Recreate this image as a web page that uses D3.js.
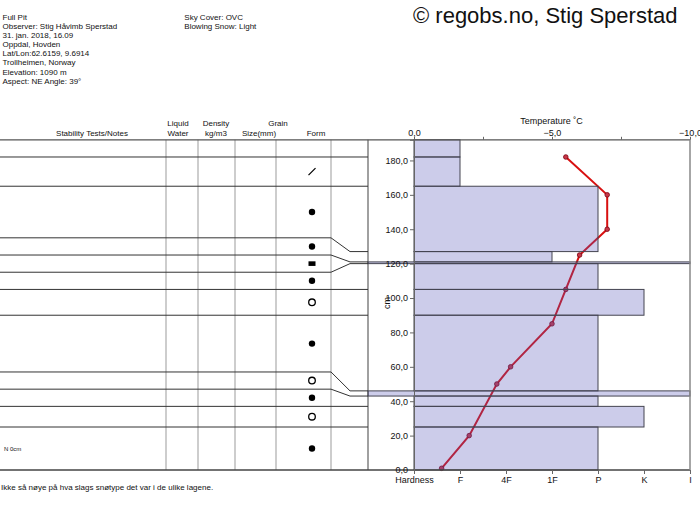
<!DOCTYPE html>
<html><head><meta charset="utf-8">
<script src="https://cdn.jsdelivr.net/npm/d3@7"></script>
<style>
html,body{margin:0;padding:0;background:#fff;}
svg{display:block;font-family:"Liberation Sans",Arial,Helvetica,sans-serif;}
</style></head>
<body><svg id="c" width="700" height="525"></svg>
<script>
// ---------- data ----------
const headerLeft = ["Full Pit","Observer: Stig Håvimb Sperstad","31. jan. 2018, 16.09","Oppdal, Hovden","Lat/Lon:62.6159, 9.6914","Trollheimen, Norway","Elevation: 1090 m","Aspect: NE Angle: 39°"];
const headerRight = ["Sky Cover: OVC","Blowing Snow: Light"];
const titleText = "© regobs.no, Stig Sperstad";
const footerText = "Ikke så nøye på hva slags snøtype det var i de ulike lagene.";

const layerTop    = [192,182,165,127,121,120,105, 90, 46, 43, 37, 25];
const layerBottom = [182,165,127,121,120,105, 90, 46, 43, 37, 25,  0];
const layerHardness = ["F","F","P","1F","I","P","K","P","I","P","K","P"];
const layerForm     = ["","DF","RG","RG","IF","RG","MF","RG","MF","RG","MF","RG"];
const layerNotes    = ["","","","","","","","","","","","N 0cm"];

const tempDepth = [182,160,140,125,105,85,60,50,20,1];
const tempValue = [-5.5,-7,-7,-6,-5.5,-5,-3.5,-3,-2,-1];

const hardnessLabels = ["Hardness","F","4F","1F","P","K","I"];
const depthTicks = [0,20,40,60,80,100,120,140,160,180];
const tempTicks = [0,-2.5,-5,-7.5,-10];
const tempLabelTicks = [0,-5,-10];

// ---------- layout ----------
const svg = d3.select("#c");
const plotTop = 139.8, plotBottom = 470;
const xPlotL = 414, xPlotR = 690;
const xTableR = 331, xBend = 350, xTableEdge = 368;

const y = d3.scaleLinear().domain([0,192]).range([plotBottom, plotTop]);
const xT = d3.scaleLinear().domain([0,-10]).range([xPlotL, xPlotR]);
const xH = d3.scalePoint().domain(hardnessLabels).range([xPlotL, xPlotR]);

const fmt = d => d3.format(".1f")(d).replace(".", ",");

// header text
const hl = svg.append("g").attr("font-size", 8).attr("fill", "#111");
headerLeft.forEach((t,i)=>hl.append("text").attr("x",2.5).attr("y",20.2+i*9.05).text(t));
headerRight.forEach((t,i)=>hl.append("text").attr("x",184.3).attr("y",20.2+i*9.05).text(t));
svg.append("text").attr("x",413).attr("y",23).attr("font-size",22).attr("fill","#111").text(titleText);

// column headers
const ch = svg.append("g").attr("font-size",8).attr("text-anchor","middle").attr("fill","#111");
[["Stability Tests/Notes",92,136.2],["Liquid",178,126.2],["Water",178,136.2],["Density",216,126.2],
 ["kg/m3",216,136.2],["Grain",278,126.2],["Size(mm)",259,136.2],["Form",316,136.2]]
 .forEach(([t,x,yy])=>ch.append("text").attr("x",x).attr("y",yy).text(t));

// table display layout: thin layers (<10 cm) expanded to 10 cm
const bounds = [layerTop[0], ...layerBottom];
const disp = bounds.slice();
const minT = 10;
const thick = layerTop.map((t,i)=>t-layerBottom[i]);
for (let i=0;i<thick.length;i++){
  if (thick[i] < minT){
    let j=i; while (j+1<thick.length && thick[j+1]<minT) j++;
    let deficit = 0; for (let k=i;k<=j;k++) deficit += minT-thick[k];
    let give = 0;
    if (j+1<thick.length){ const spare = thick[j+1]-minT; give = spare>=5 ? Math.min(spare,deficit) : 0; }
    disp[j+1] = bounds[j+1]-give;
    for (let k=j;k>=i;k--) disp[k] = disp[k+1]+minT;
    i=j;
  }
}

// column verticals
const colX = [166,198,235,276,331];
svg.append("g").selectAll("line").data(colX).join("line")
  .attr("x1",d=>d).attr("x2",d=>d).attr("y1",plotTop).attr("y2",plotBottom)
  .attr("stroke","#bdbdbd").attr("stroke-width",1.5);
svg.append("line").attr("x1",xTableEdge).attr("x2",xTableEdge).attr("y1",plotTop).attr("y2",plotBottom)
  .attr("stroke","#808080").attr("stroke-width",1.5);

// temperature line (under bars)
const tempPts = tempDepth.map((d,i)=>[xT(tempValue[i]), y(d)]);
svg.append("path").attr("d", d3.line()(tempPts)).attr("fill","none")
  .attr("stroke","#d81010").attr("stroke-width",2);
svg.append("g").selectAll("circle").data(tempPts).join("circle")
  .attr("cx",d=>d[0]).attr("cy",d=>d[1]).attr("r",2.3)
  .attr("fill","#c83848").attr("stroke","#7a0010").attr("stroke-width",0.8);

// hardness bars
svg.append("g").selectAll("rect").data(layerTop).join("rect")
  .attr("x",(d,i)=>layerHardness[i]==="I" ? xTableEdge : xPlotL)
  .attr("y",d=>y(d))
  .attr("width",(d,i)=>xH(layerHardness[i]) - (layerHardness[i]==="I" ? xTableEdge : xPlotL))
  .attr("height",(d,i)=>y(layerBottom[i])-y(d))
  .attr("fill","#5555b9").attr("fill-opacity",0.3)
  .attr("stroke","#444450").attr("stroke-width",1);

// row lines with connectors
const rowLine = [];
for (let k=1;k<bounds.length-1;k++){
  rowLine.push([[0,y(disp[k])],[xTableR,y(disp[k])],[xBend,y(bounds[k])],[xTableEdge,y(bounds[k])]]);
}
svg.append("g").selectAll("path").data(rowLine).join("path")
  .attr("d",d=>d3.line()(d)).attr("fill","none").attr("stroke","#333").attr("stroke-width",1);

// top and bottom frame lines
svg.append("line").attr("x1",0).attr("x2",xPlotR).attr("y1",plotTop).attr("y2",plotTop)
  .attr("stroke","#555").attr("stroke-width",1.2);
svg.append("line").attr("x1",0).attr("x2",xPlotR).attr("y1",plotBottom).attr("y2",plotBottom)
  .attr("stroke","#444").attr("stroke-width",1.5);
svg.append("line").attr("x1",xPlotR).attr("x2",xPlotR).attr("y1",plotTop).attr("y2",plotBottom)
  .attr("stroke","#888").attr("stroke-width",1.5);

// axes
const axL = svg.append("g").attr("transform",`translate(${xPlotL},0)`)
  .call(d3.axisLeft(y).tickValues(depthTicks).tickFormat(fmt).tickSize(4).tickPadding(2));
const axT = svg.append("g").attr("transform",`translate(0,${plotTop})`)
  .call(d3.axisTop(xT).tickValues(tempTicks).tickFormat(d=>tempLabelTicks.includes(d)?fmt(d):"").tickSize(3).tickPadding(1));
const axB = svg.append("g").attr("transform",`translate(0,${plotBottom})`)
  .call(d3.axisBottom(xH).tickSize(4).tickPadding(3));
[axL,axT,axB].forEach(a=>{
  a.attr("font-family",null).attr("font-size",9);
  a.selectAll("path.domain").attr("stroke","#666");
  a.selectAll(".tick line").attr("stroke","#666");
  a.selectAll("text").attr("fill","#111");
});
axT.select("path.domain").remove();
axB.select("path.domain").remove();

svg.append("text").attr("x",551.5).attr("y",124.2).attr("font-size",9).attr("text-anchor","middle")
  .attr("fill","#111").text("Temperature ˚C");
svg.append("text").attr("transform","translate(389.5,303) rotate(-90)").attr("font-size",9)
  .attr("text-anchor","middle").attr("fill","#111").text("cm");

// form symbols
const formX = 312;
const rowMid = layerTop.map((d,i)=>y((disp[i]+disp[i+1])/2));
const fg = svg.append("g");
layerForm.forEach((f,i)=>{
  const cy = rowMid[i];
  if (f==="RG") fg.append("circle").attr("cx",formX).attr("cy",cy).attr("r",3.2).attr("fill","#000");
  else if (f==="MF") fg.append("circle").attr("cx",formX).attr("cy",cy).attr("r",3.3).attr("fill","none").attr("stroke","#000").attr("stroke-width",1.3);
  else if (f==="IF") fg.append("rect").attr("x",formX-3.5).attr("y",cy-2.3).attr("width",7).attr("height",4.6).attr("fill","#000");
  else if (f==="DF") fg.append("line").attr("x1",formX-3.5).attr("y1",cy+3.5).attr("x2",formX+3.5).attr("y2",cy-3.5).attr("stroke","#000").attr("stroke-width",1.2);
});

// notes
layerNotes.forEach((n,i)=>{ if(n) svg.append("text").attr("x",4).attr("y",rowMid[i]+2.2).attr("font-size",6).attr("fill","#111").text(n); });

// footer
svg.append("text").attr("x",1).attr("y",489.6).attr("font-size",8).attr("fill","#111").text(footerText);
</script></body></html>
